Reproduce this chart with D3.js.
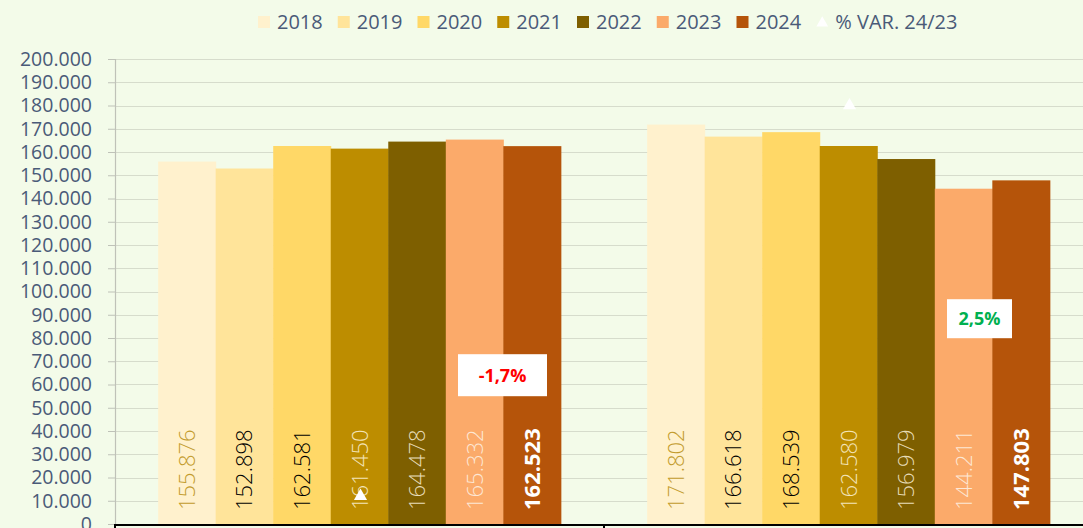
<!DOCTYPE html>
<html>
<head>
<meta charset="utf-8">
<script src="https://cdn.jsdelivr.net/npm/d3@7"></script>
<style>
  body { margin: 0; background: #f3fbe9; }
  svg { display: block; font-family: "Open Sans", "Noto Sans", sans-serif; }
</style>
</head>
<body>
<svg width="1083" height="528"></svg>
<script>
const groups = ['Grupo 1', 'Grupo 2'];
const years = ['2018', '2019', '2020', '2021', '2022', '2023', '2024'];
const values1 = [155876, 152898, 162581, 161450, 164478, 165332, 162523];
const values2 = [171802, 166618, 168539, 162580, 156979, 144211, 147803];
const pctVar = [-1.7, 2.5];
const yTicks = d3.range(0, 200001, 10000);

const colors = ['#fff1cd', '#ffe49a', '#ffd867', '#bd8d00', '#7e5f00', '#fbaa6a', '#b5540a'];
const labelColors = ['#c29b2c', '#000', '#000', '#f3e4b8', '#e7dcb8', '#fde7d4', '#fff'];

const svg = d3.select('svg');
const W = 1083, H = 528;
const plotL = 115, plotT = 59, plotB = 524, plotR = 1093;

svg.append('rect').attr('width', W).attr('height', H).attr('fill', '#f3fbe9');

const y = d3.scaleLinear().domain([0, 200000]).range([plotB, plotT]);
const y2 = d3.scaleLinear().domain([-2, 3]).range([plotB, plotT]);
const x0 = d3.scaleBand().domain(groups).range([plotL, plotR]).paddingInner(0).paddingOuter(0);
const x1 = d3.scaleBand().domain(years).range([0, x0.bandwidth()]).paddingInner(0).paddingOuter(0.75);

const fmt = v => d3.format(',')(v).replace(/,/g, '.');

// gridlines
svg.append('g').selectAll('line').data(yTicks.slice(1)).enter().append('line')
  .attr('x1', plotL).attr('x2', W)
  .attr('y1', d => Math.round(y(d)) + 0.5).attr('y2', d => Math.round(y(d)) + 0.5)
  .attr('stroke', '#d6dccc').attr('stroke-width', 1.2);

// y axis
const yAxis = svg.append('g').attr('transform', `translate(${plotL},0)`)
  .call(d3.axisLeft(y).tickValues(yTicks).tickSize(7).tickPadding(16).tickFormat(fmt));
yAxis.select('.domain').attr('stroke', '#bfc2b8').attr('stroke-width', 1.2);
yAxis.selectAll('.tick line').attr('stroke', '#bfc2b8');
yAxis.selectAll('.tick text').attr('fill', '#4a5a78').attr('font-size', 19.5)
  .attr('font-family', '"Open Sans", sans-serif');

const series = [values1, values2];
const data = [];
groups.forEach((g, gi) => years.forEach((yr, i) => data.push({ g, yr, i, v: series[gi][i] })));

const bars = svg.append('g');
bars.selectAll('rect').data(data).enter().append('rect')
  .attr('x', d => x0(d.g) + x1(d.yr))
  .attr('y', d => y(d.v))
  .attr('width', x1.bandwidth() + 0.5)
  .attr('height', d => plotB - y(d.v))
  .attr('fill', d => colors[d.i]);

// value labels (vertical)
svg.append('g').selectAll('text').data(data).enter().append('text')
  .attr('transform', d => `translate(${x0(d.g) + x1(d.yr) + x1.bandwidth() / 2 + 8},${plotB - 14}) rotate(-90)`)
  .attr('font-size', 22)
  .attr('font-weight', d => d.i === 6 ? 700 : 300)
  .attr('fill', d => labelColors[d.i])
  .text(d => fmt(d.v));

// % var triangles
const tri = d3.symbol().type(d3.symbolTriangle).size(75);
svg.append('g').selectAll('path').data(groups).enter().append('path')
  .attr('d', tri)
  .attr('transform', (g, gi) => `translate(${x0(g) + x0.bandwidth() / 2 + 1},${y2(pctVar[gi])})`)
  .attr('fill', '#ffffff');

// % var labels
const boxCenterY = [64000, 88300];
const pctFmt = v => d3.format('.1f')(v).replace('.', ',').replace('−', '-') + '%';
const boxes = svg.append('g').selectAll('g').data(groups).enter().append('g');
boxes.each(function (g, gi) {
  const el = d3.select(this);
  const bx = x0(g) + 343;
  const cy = y(boxCenterY[gi]);
  const w = gi === 0 ? 89 : 65, h = gi === 0 ? 42 : 39;
  el.append('rect').attr('x', bx).attr('y', cy - h / 2).attr('width', w).attr('height', h)
    .attr('fill', '#ffffff');
  el.append('text').attr('x', bx + w / 2).attr('y', cy).attr('dy', '0.36em')
    .attr('text-anchor', 'middle').attr('font-size', 18).attr('font-weight', 700)
    .attr('fill', pctVar[gi] < 0 ? '#ff0000' : '#00b050')
    .text(pctFmt(pctVar[gi]));
});

// x axis
svg.append('line').attr('x1', plotL).attr('x2', W).attr('y1', plotB + 1).attr('y2', plotB + 1)
  .attr('stroke', '#000').attr('stroke-width', 2.2);
svg.append('g').selectAll('line').data(groups).enter().append('line')
  .attr('x1', g => x0(g)).attr('x2', g => x0(g))
  .attr('y1', plotB).attr('y2', H)
  .attr('stroke', '#000').attr('stroke-width', 2);

// legend
const legendItems = years.map((yr, i) => ({ label: yr, color: colors[i], type: 'sq' }))
  .concat([{ label: '% VAR. 24/23', color: '#ffffff', type: 'tri' }]);
const legend = svg.append('g');
let lx = 258;
legendItems.forEach(it => {
  if (it.type === 'sq') {
    legend.append('rect').attr('x', lx).attr('y', 16).attr('width', 12).attr('height', 12).attr('fill', it.color);
  } else {
    legend.append('path').attr('d', d3.symbol().type(d3.symbolTriangle).size(60))
      .attr('transform', `translate(${lx + 6},23)`).attr('fill', it.color);
  }
  const t = legend.append('text').attr('x', lx + 19).attr('y', 22).attr('dy', '0.35em')
    .attr('font-size', 20).attr('fill', '#4a5a78').text(it.label);
  lx += 19 + t.node().getComputedTextLength() + 15;
});
</script>
</body>
</html>
